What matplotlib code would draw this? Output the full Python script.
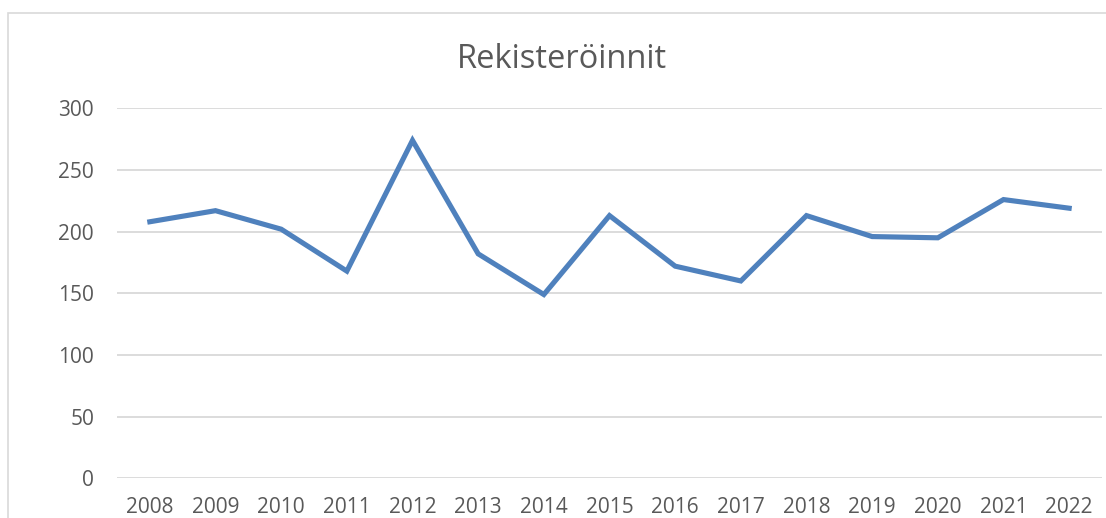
import matplotlib
matplotlib.use("Agg")
import matplotlib.pyplot as plt
from matplotlib.patches import Rectangle

years = ["2008", "2009", "2010", "2011", "2012", "2013", "2014", "2015",
         "2016", "2017", "2018", "2019", "2020", "2021", "2022"]
registrations = [208, 217, 202, 168, 274, 182, 149, 213, 172, 160, 213, 196, 195, 226, 219]
y_ticks = [0, 50, 100, 150, 200, 250, 300]

W, H = 1106, 518
plt.rcParams["font.family"] = ["Open Sans", "DejaVu Sans"]
TEXT = "#595959"
GRID = "#d9d9d9"
LINE = "#4f81bd"

fig = plt.figure(figsize=(W / 100, H / 100), dpi=100)
fig.patch.set_facecolor("white")

# chart area frame, runs off the right and bottom edges
fig.patches.append(Rectangle((8 / W, -20 / H), 1.2, (H - 13 + 20) / H,
                             transform=fig.transFigure, fill=False,
                             edgecolor=GRID, linewidth=1.2))

ax = fig.add_axes([117 / W, (H - 478.3) / H, (1102 - 117) / W, (478.3 - 108.3) / H])
x = list(range(len(years)))
ax.plot(x, registrations, color=LINE, linewidth=3.7, solid_joinstyle="miter", zorder=3)

ax.set_xlim(-0.5, len(years) - 0.5)
ax.set_ylim(0, 300)
ax.set_yticks(y_ticks)
ax.set_xticks(x)
ax.set_xticklabels(years)
ax.yaxis.grid(True, color=GRID, linewidth=1.3)
ax.set_axisbelow(True)
for s in ax.spines.values():
    s.set_visible(False)
ax.tick_params(axis="both", length=0, labelsize=15, labelcolor=TEXT)
ax.tick_params(axis="y", pad=16.5)
ax.tick_params(axis="x", pad=13.5)
ax.patch.set_alpha(0)

fig.text(562 / W, (H - 68.3) / H, "Rekisteröinnit", ha="center", va="baseline",
         fontsize=23.5, color=TEXT)

fig.savefig("out.png", dpi=100)
